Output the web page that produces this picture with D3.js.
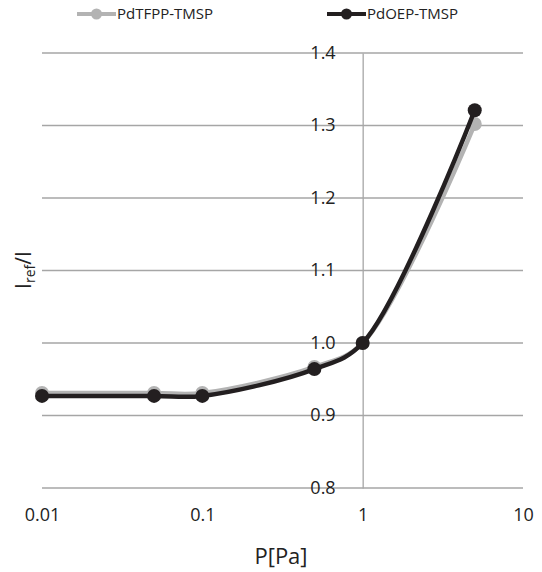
<!DOCTYPE html>
<html>
<head>
<meta charset="utf-8">
<script src="https://cdn.jsdelivr.net/npm/d3@7"></script>
<style>
  body { margin: 0; background: #fff; }
  text { font-family: "Open Sans", "Noto Sans", sans-serif; fill: #222; }
</style>
</head>
<body>
<svg id="chart"></svg>
<script>
// data
const pressure = [0.01, 0.05, 0.1, 0.5, 1, 5];
const pdTFPP = [0.931, 0.931, 0.931, 0.967, 1.0, 1.302];
const pdOEP = [0.927, 0.927, 0.927, 0.964, 1.0, 1.321];
const xTicks = [0.01, 0.1, 1, 10];
const yTicks = [0.8, 0.9, 1.0, 1.1, 1.2, 1.3, 1.4];

const width = 542, height = 572;
const margin = {top: 53, right: 19, bottom: 84, left: 42};

const svg = d3.select("#chart")
  .attr("width", width)
  .attr("height", height);

/// Scales ///
const x = d3.scaleLog()
  .domain([0.01, 10])
  .range([margin.left, width - margin.right]);
const y = d3.scaleLinear()
  .domain([0.8, 1.4])
  .range([height - margin.bottom, margin.top]);

// horizontal gridlines
svg.append("g")
  .selectAll("line")
  .data(yTicks)
  .join("line")
    .attr("x1", margin.left)
    .attr("x2", width - margin.right)
    .attr("y1", d => y(d))
    .attr("y2", d => y(d))
    .attr("stroke", "#a6a6a6")
    .attr("stroke-width", 1.3);

// y axis crosses at x = 1
const yAxis = g => g
  .attr("transform", `translate(${x(1)},0)`)
  .call(d3.axisLeft(y).tickValues(yTicks).tickFormat(d3.format(".1f")).tickSize(0).tickPadding(27))
  .call(g => g.select(".domain").attr("stroke", "#a6a6a6").attr("stroke-width", 1.3))
  .call(g => g.selectAll(".tick text").attr("font-size", 18).attr("font-family", null).attr("dy", "0.28em"));
svg.append("g").call(yAxis);

// x axis labels below the plot
const xAxis = g => g
  .attr("transform", `translate(0,${height - margin.bottom})`)
  .call(d3.axisBottom(x).tickValues(xTicks).tickFormat(d3.format("~g")).tickSize(0).tickPadding(20))
  .call(g => g.select(".domain").remove())
  .call(g => g.selectAll(".tick text").attr("font-size", 18).attr("font-family", null));
svg.append("g").call(xAxis);

// axis titles
svg.append("text")
  .attr("x", 281)
  .attr("y", 564)
  .attr("text-anchor", "middle")
  .attr("font-size", 22)
  .text("P[Pa]");

const yTitle = svg.append("text")
  .attr("transform", "translate(31,270) rotate(-90)")
  .attr("text-anchor", "middle")
  .attr("font-size", 21);
yTitle.append("tspan").text("I");
yTitle.append("tspan").attr("font-size", 14).attr("dy", 4).text("ref");
yTitle.append("tspan").attr("dy", -4).text("/I");

/// Series ///
const series = [
  {name: "PdTFPP-TMSP", values: pdTFPP, color: "#b3b3b3", lx: 77},
  {name: "PdOEP-TMSP", values: pdOEP, color: "#231f20", lx: 327}
];

const line = d3.line()
  .x(d => x(d[0]))
  .y(d => y(d[1]))
  .curve(d3.curveCatmullRom.alpha(0.5));

series.forEach(s => {
  const pts = pressure.map((p, i) => [p, s.values[i]]);
  svg.append("path")
    .datum(pts)
    .attr("fill", "none")
    .attr("stroke", s.color)
    .attr("stroke-width", 4.5)
    .attr("d", line);
  svg.append("g")
    .selectAll("circle")
    .data(pts)
    .join("circle")
      .attr("cx", d => x(d[0]))
      .attr("cy", d => y(d[1]))
      .attr("r", 7)
      .attr("fill", s.color);

  // legend
  const lg = svg.append("g").attr("transform", `translate(${s.lx},14)`);
  lg.append("line")
    .attr("x1", 0).attr("x2", 39)
    .attr("stroke", s.color).attr("stroke-width", 4);
  lg.append("circle").attr("cx", 19.5).attr("r", 5.5).attr("fill", s.color);
  lg.append("text")
    .attr("x", 40).attr("dy", "0.35em")
    .attr("font-size", 15)
    .text(s.name);
});
</script>
</body>
</html>
